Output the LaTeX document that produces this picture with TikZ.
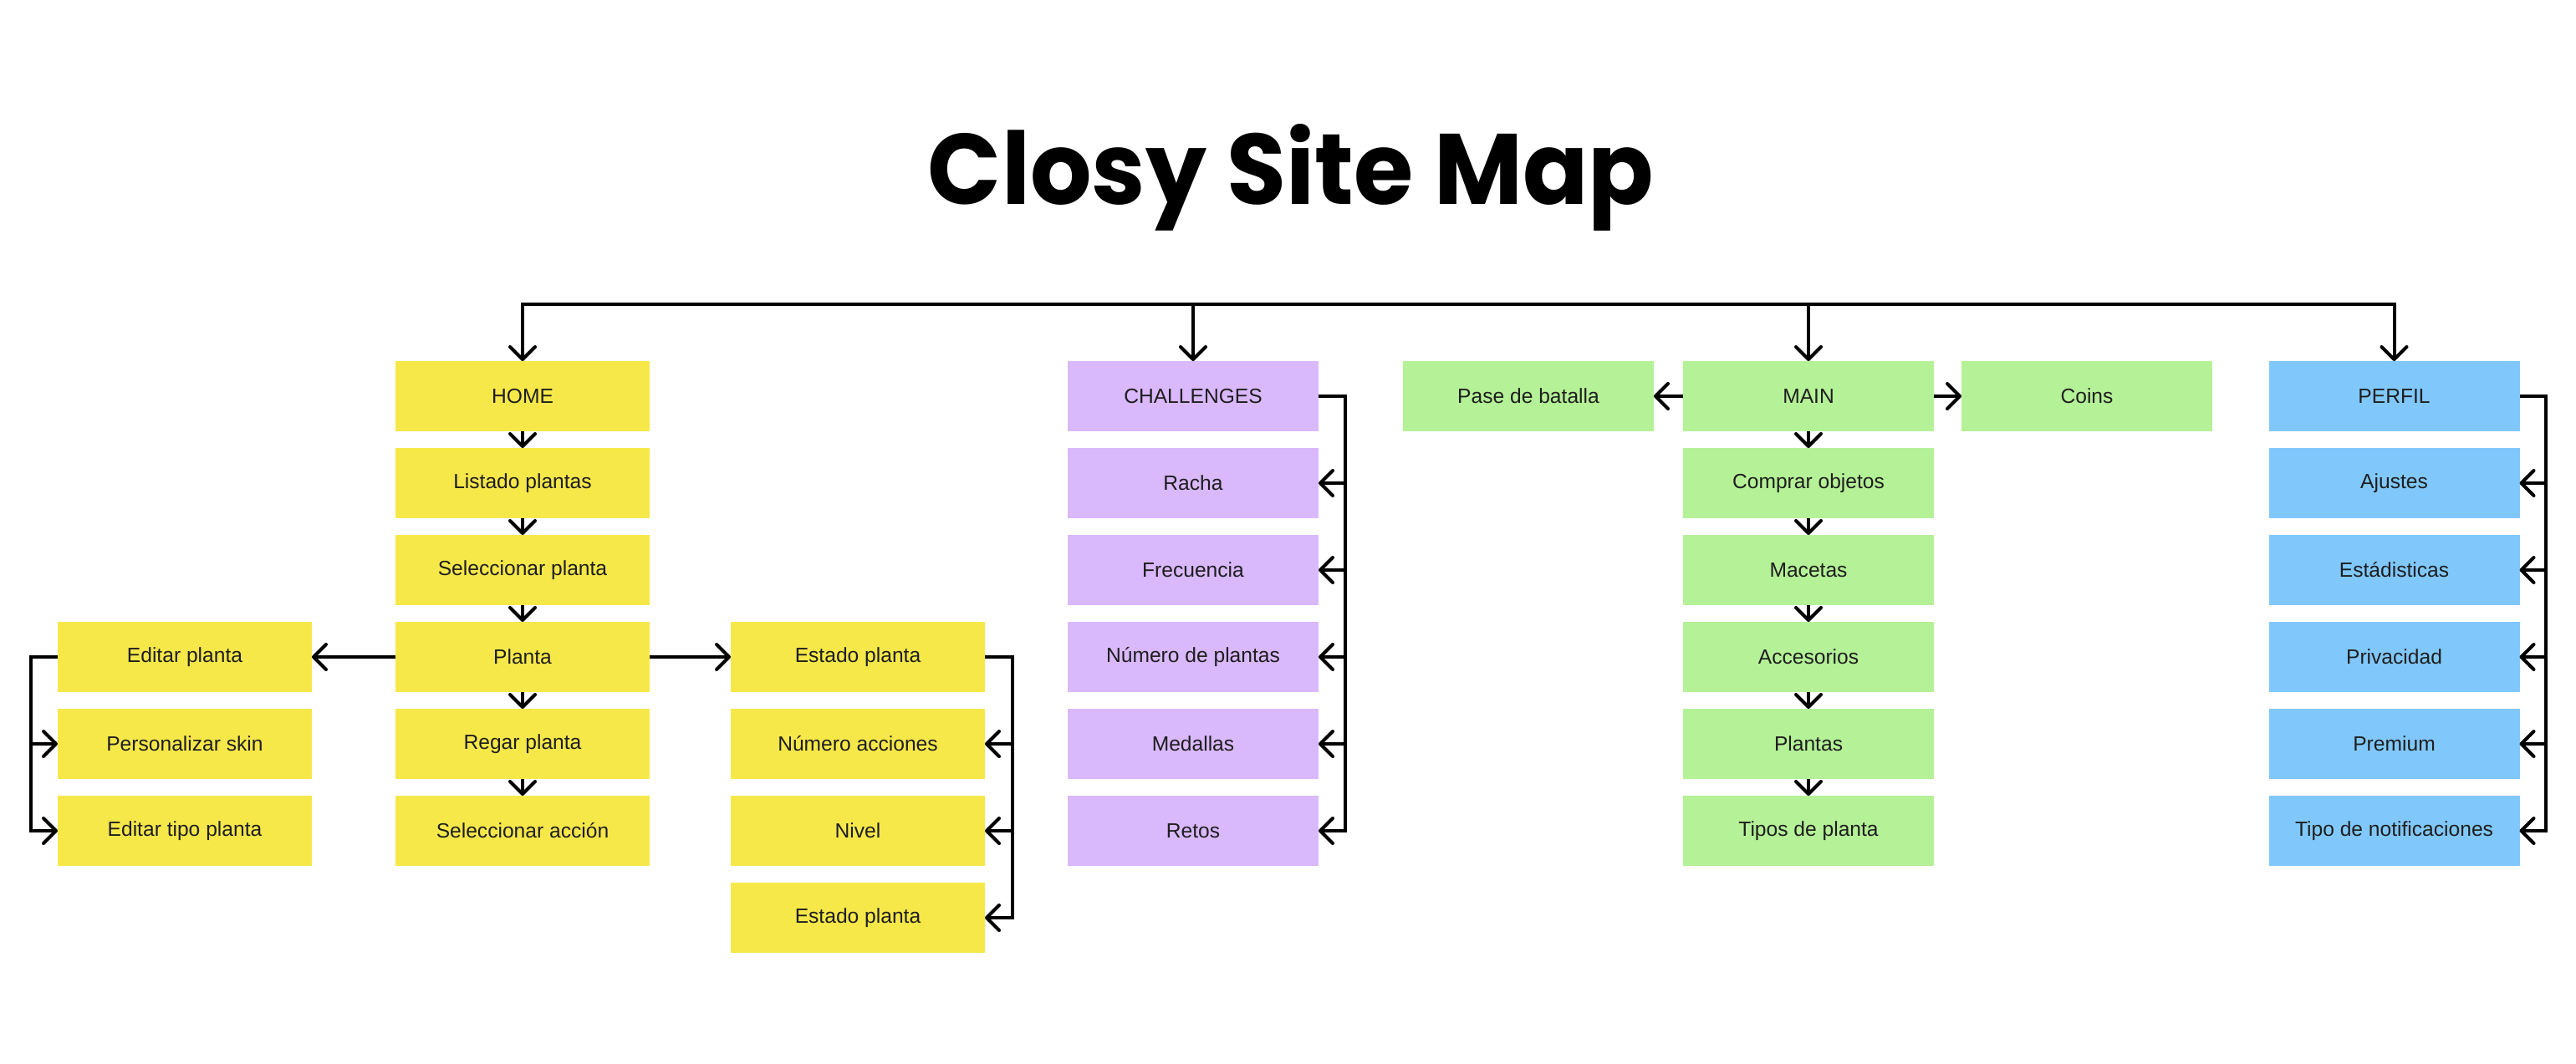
\documentclass[tikz,border=0pt]{standalone}
\usepackage{graphicx}
\usepackage{fontspec}
\setmainfont{Liberation Sans}
\newfontfamily\titlefont{Poppins}
\usetikzlibrary{positioning,arrows.meta}

\definecolor{closyyellow}{HTML}{F7E84A}
\definecolor{closypurple}{HTML}{D9B8FC}
\definecolor{closygreen}{HTML}{B5F197}
\definecolor{closyblue}{HTML}{80C8FC}
\definecolor{closytext}{HTML}{1E1E1E}

\begin{document}
\begin{tikzpicture}[
        box/.style={rectangle, minimum width=3cm, minimum height=0.84cm, inner sep=0pt, outer sep=0pt, text=closytext, font=\fontsize{7}{8}\selectfont},
        yel/.style={box, fill=closyyellow, minimum width=3.04cm},
        pur/.style={box, fill=closypurple},
        grn/.style={box, fill=closygreen},
        blu/.style={box, fill=closyblue},
        >={Straight Barb[length=1.5mm,width=3mm,round]},
        link/.style={->, line width=0.4mm},
        node distance=0.2cm
    ]
            \useasboundingbox (0,0) rectangle (30.81,-12.72);
            \node[anchor=base] (title) at (15.44,-2.44) {\resizebox{8.68cm}{0.96cm}{\titlefont\bfseries Closy Site Map}};

            % home
            \node[yel] (home) at (6.25,-4.74) {HOME};
            \node[yel, below=of home] (listado) {Listado plantas};
            \node[yel, below=of listado] (selplanta) {Seleccionar planta};
            \node[yel, below=of selplanta] (planta) {Planta};
            \node[yel, below=of planta] (regar) {Regar planta};
            \node[yel, below=of regar] (selaccion) {Seleccionar acción};
            \node[yel, left=1cm of planta] (editar) {Editar planta};
            \node[yel, below=of editar] (skin) {Personalizar skin};
            \node[yel, below=of skin] (tipoplanta) {Editar tipo planta};
            \node[yel, right=0.97cm of planta] (estado) {Estado planta};
            \node[yel, below=of estado] (acciones) {Número acciones};
            \node[yel, below=of acciones] (nivel) {Nivel};
            \node[yel, below=of nivel] (estadob) {Estado planta};

            % challenges
            \node[pur] (chal) at (14.27,-4.74) {CHALLENGES};
            \node[pur, below=of chal] (racha) {Racha};
            \node[pur, below=of racha] (frec) {Frecuencia};
            \node[pur, below=of frec] (numplantas) {Número de plantas};
            \node[pur, below=of numplantas] (medallas) {Medallas};
            \node[pur, below=of medallas] (retos) {Retos};

            % main
            \node[grn] (main) at (21.63,-4.74) {MAIN};
            \node[grn, left=0.35cm of main] (pase) {Pase de batalla};
            \node[grn, right=0.33cm of main] (coins) {Coins};
            \node[grn, below=of main] (comprar) {Comprar objetos};
            \node[grn, below=of comprar] (macetas) {Macetas};
            \node[grn, below=of macetas] (accesorios) {Accesorios};
            \node[grn, below=of accesorios] (plantas) {Plantas};
            \node[grn, below=of plantas] (tipos) {Tipos de planta};

            % perfil
            \node[blu] (perfil) at (28.635,-4.74) {PERFIL};
            \node[blu, below=of perfil] (ajustes) {Ajustes};
            \node[blu, below=of ajustes] (estad) {Estádisticas};
            \node[blu, below=of estad] (privacidad) {Privacidad};
            \node[blu, below=of privacidad] (premium) {Premium};
            \node[blu, below=of premium] (notif) {Tipo de notificaciones};

            % top line
            \coordinate (top) at (0,-3.64);
            \draw[link, <->] (home) -- (home |- top) -- (perfil |- top) -- (perfil);
            \draw[link] (chal |- top) -- (chal);
            \draw[link] (main |- top) -- (main);

            \foreach \a/\b in {home/listado, listado/selplanta, selplanta/planta, planta/regar, regar/selaccion,
                    main/comprar, comprar/macetas, macetas/accesorios, accesorios/plantas, plantas/tipos}
                \draw[link] (\a) -- (\b);
            \draw[link] (planta) -- (editar);
            \draw[link] (planta) -- (estado);
            \draw[link] (main) -- (pase);
            \draw[link] (main) -- (coins);

            % brackets
            \draw[link] (editar.west) -- ++(-0.325,0) coordinate (ebar) |- (tipoplanta.west);
            \draw[link] (ebar |- skin.west) -- (skin.west);
            \draw[link] (estado.east) -- ++(0.33,0) coordinate (sbar) |- (estadob.east);
            \foreach \n in {acciones,nivel}
                \draw[link] (sbar |- \n.east) -- (\n.east);
            \draw[link] (chal.east) -- ++(0.32,0) coordinate (cbar) |- (retos.east);
            \foreach \n in {racha,frec,numplantas,medallas}
                \draw[link] (cbar |- \n.east) -- (\n.east);
            \draw[link] (perfil.east) -- ++(0.31,0) coordinate (pbar) |- (notif.east);
            \foreach \n in {ajustes,estad,privacidad,premium}
                \draw[link] (pbar |- \n.east) -- (\n.east);
        \end{tikzpicture}
\end{document}
